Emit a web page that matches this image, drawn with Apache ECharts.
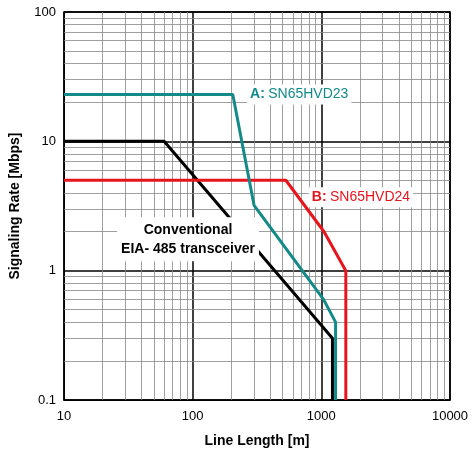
<!DOCTYPE html>
<html><head><meta charset="utf-8">
<script src="https://cdn.jsdelivr.net/npm/echarts@6/dist/echarts.min.js"></script>
<style>html,body{margin:0;background:#fff}#c{width:474px;height:462px}</style>
</head><body><div id="c"></div>
<script>
// data
var seriesA = [[10, 23], [205, 23], [300, 3.2], [1040, 0.6], [1290, 0.4], [1290, 0.1]];
var seriesB = [[10, 5], [530, 5], [1050, 2], [1550, 1], [1550, 0.1]];
var seriesConv = [[10, 10], [60, 10], [1220, 0.3], [1220, 0.1]];
var minorMult = [2, 3, 4, 5, 6, 7, 8, 9];
var xDecades = [10, 100, 1000];
var yDecades = [0.1, 1, 10];

var minor = [];
xDecades.forEach(function (d) { minorMult.forEach(function (m) { minor.push({xAxis: d * m}); }); });
yDecades.forEach(function (d) { minorMult.forEach(function (m) { minor.push({yAxis: +(d * m).toPrecision(3)}); }); });

var chart = echarts.init(document.getElementById('c'));
var font = 'Liberation Sans';
chart.setOption({
    animation: false,
    grid: {left: 62, right: 24, top: 12, bottom: 62, show: true, borderColor: '#000', borderWidth: 1.5},
    xAxis: {
        type: 'log', min: 10, max: 10000, logBase: 10,
        name: 'Line Length [m]', nameLocation: 'middle', nameGap: 34,
        nameTextStyle: {fontFamily: font, fontWeight: 'bold', fontSize: 14, color: '#000'},
        axisLine: {lineStyle: {color: '#000'}}, axisTick: {show: false},
        axisLabel: {fontFamily: font, fontSize: 13, color: '#000', margin: 10,
            formatter: function (v) { return String(Math.round(v)); }},
        splitLine: {lineStyle: {color: '#000', width: 1.5}}
    },
    yAxis: {
        type: 'log', min: 0.1, max: 100, logBase: 10,
        name: 'Signaling Rate [Mbps]', nameLocation: 'middle', nameGap: 42,
        nameTextStyle: {fontFamily: font, fontWeight: 'bold', fontSize: 14, color: '#000'},
        axisLine: {lineStyle: {color: '#000'}}, axisTick: {show: false},
        axisLabel: {fontFamily: font, fontSize: 13, color: '#000', margin: 8,
            formatter: function (v) { return v < 1 ? '0.1' : String(Math.round(v)); }},
        splitLine: {lineStyle: {color: '#000', width: 1.5}}
    },
    series: [
        {type: 'line', data: [], silent: true, z: 1,
         markLine: {silent: true, z: 1, symbol: 'none', label: {show: false},
                    lineStyle: {color: '#888', width: 0.8, type: 'solid'}, data: minor}},
        {type: 'line', data: seriesConv, symbol: 'none', lineStyle: {color: '#000', width: 3}, z: 6},
        {type: 'line', data: seriesA, symbol: 'none', lineStyle: {color: '#138a8a', width: 3}, z: 7},
        {type: 'line', data: seriesB, symbol: 'none', lineStyle: {color: '#e8141c', width: 3}, z: 6},
        {type: 'scatter', data: [], silent: true, z: 8,
         markPoint: {symbol: 'rect', symbolSize: 0, z: 8, data: [
            {coord: [265, 23], label: {show: true, position: 'right', distance: 0, backgroundColor: '#fff', padding: [3, 3],
                formatter: '{a|A:} {b|SN65HVD23}',
                rich: {a: {fontFamily: font, fontWeight: 'bold', fontSize: 14, color: '#138a8a'},
                       b: {fontFamily: font, fontSize: 14, color: '#138a8a'}}}},
            {coord: [800, 3.7], label: {show: true, position: 'right', distance: 0, backgroundColor: '#fff', padding: [3, 3],
                formatter: '{a|B:} {b|SN65HVD24}',
                rich: {a: {fontFamily: font, fontWeight: 'bold', fontSize: 14, color: '#e8141c'},
                       b: {fontFamily: font, fontSize: 14, color: '#e8141c'}}}},
            {coord: [92, 1.75], label: {show: true, position: 'inside', backgroundColor: '#fff', padding: [3, 4],
                align: 'center', lineHeight: 19,
                formatter: 'Conventional\nEIA- 485 transceiver',
                fontFamily: font, fontWeight: 'bold', fontSize: 14, color: '#000'}}
         ]}}
    ]
});
</script>
</body></html>
